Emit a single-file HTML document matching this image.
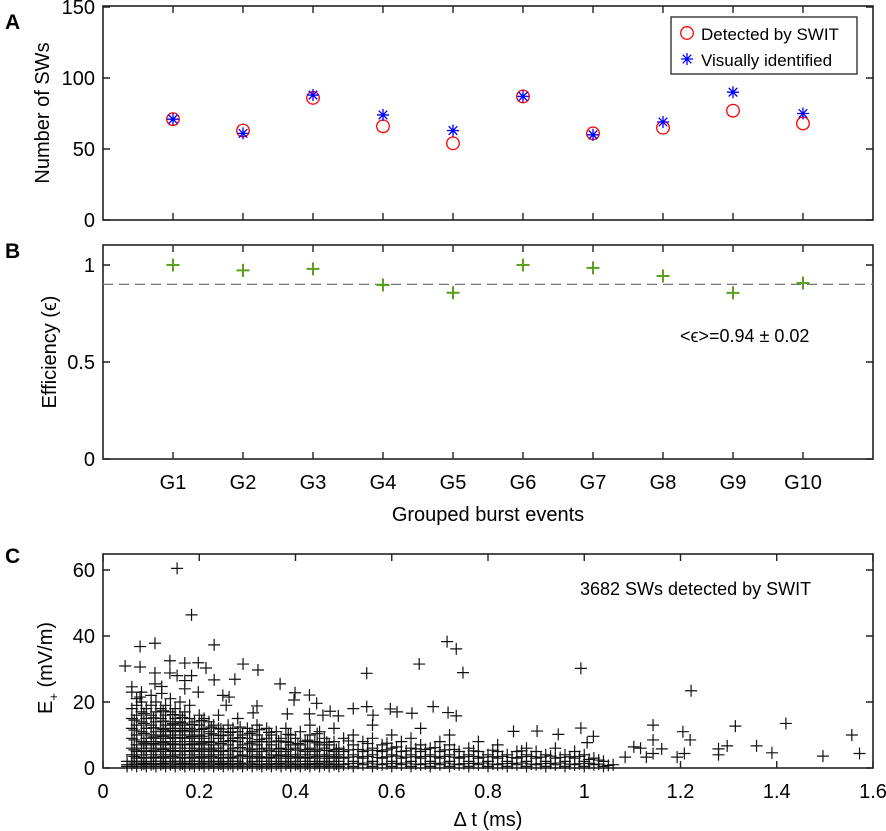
<!DOCTYPE html>
<html><head><meta charset="utf-8"><style>
html,body{margin:0;padding:0;background:#fff;}
svg{display:block;font-family:"Liberation Sans",Arial,sans-serif;}
</style></head><body>
<svg id="fig" width="886" height="831" viewBox="0 0 886 831" xmlns="http://www.w3.org/2000/svg"></svg>
<script>
// Panel A data
const groups = ["G1","G2","G3","G4","G5","G6","G7","G8","G9","G10"];
const detected = [71,63,86,66,54,87,61,65,77,68];
const visual = [71,61,88,74,63,87,60,69,90,75];
// Panel B data
const efficiency = [1.0,0.972,0.98,0.897,0.857,1.0,0.985,0.943,0.856,0.907];
const effMean = 0.9;
const ticksA = [0,50,100,150];
const ticksB = [0,0.5,1];
const ticksCx = [0,0.2,0.4,0.6,0.8,1,1.2,1.4,1.6];
const ticksCy = [0,20,40,60];
// Panel C outliers
const outX = [0.154,0.184,0.077,0.108,0.231,0.046,0.077,0.139,0.170,0.198,0.214,0.291,0.322,0.274,0.231,0.108,0.139,0.154,0.184,0.368,0.399,0.429,0.444,0.397,0.548,0.657,0.715,0.734,0.748,0.686,0.717,0.734,0.642,0.383,0.429,0.457,0.472,0.489,0.520,0.548,0.561,0.597,0.611,0.320,0.312,0.249,0.262,0.256,0.06,0.06,0.077,0.108,0.122,0.122,0.170,0.170,0.198,0.993,1.222,1.419,1.314,1.143,1.556,1.572,1.496,1.390,1.358,1.297,1.279,1.279,1.205,1.220,1.208,1.193,1.161,1.143,1.143,1.129,1.103,1.117,1.085,0.993,1.006,1.019,0.853,0.902,0.946];
const outY = [60.5,46.4,36.8,37.8,37.3,30.9,30.6,32.5,31.8,31.9,30.3,31.5,29.7,26.9,26.7,28.8,28.8,28,28,25.5,22.8,22.1,19.6,20.6,28.7,31.5,38.3,36.1,28.9,18.6,16.8,15.8,16.6,16.4,16.4,16,17.2,15.8,18,18.6,16,17.9,17,18.8,16.7,22,21.5,19,24.6,23,21.5,25.5,24.7,22.6,26.5,24,23,30.2,23.4,13.5,12.7,13,10,4.4,3.6,4.6,6.7,6.7,5.8,4,11,8.5,4.4,3.3,5.8,8.5,4.4,3.3,6.4,6,3.3,12.1,7.7,9.6,11.1,11.2,10.2];
// Panel C dense cluster: column x values and y values per column
const denseX = [0.05,0.06,0.07,0.08,0.09,0.10,0.11,0.12,0.13,0.14,0.15,0.16,0.17,0.18,0.19,0.20,0.21,0.22,0.23,0.24,0.25,0.26,0.27,0.28,0.29,0.30,0.31,0.32,0.33,0.34,0.35,0.36,0.37,0.38,0.39,0.40,0.41,0.42,0.43,0.44,0.45,0.46,0.47,0.48,0.49,0.50,0.52,0.54,0.56,0.58,0.60,0.62,0.64,0.66,0.68,0.70,0.72,0.74,0.76,0.78,0.80,0.82,0.84,0.86,0.88,0.90,0.92,0.94,0.96,0.98,1.00,1.02,1.04,1.06];
const denseY = [
[0.5,1,2],[1,2,4,6,9,12,15,18],[0.5,2,3,5,7,10,13,16,19,21],[1,2,4,6,8,11,14,17,20,23],[0.5,1.5,3,5,7,9,12,15,18],
[1,2,4,6,8,10,13,16,19,22],[0.5,2,3,5,7,9,11,14,17,20],[1,2,4,6,8,10,12,15,18],[0.5,1.5,3,5,7,9,11,13,16,19],[1,2,4,6,8,10,12,14,17,21],
[0.5,2,3,5,7,9,11,13,15,18],[1,2,4,6,8,10,12,14,16,20],[0.5,1.5,3,5,7,9,11,13,17],[1,2,4,6,8,10,12,15,19],[0.5,2,3,5,7,9,11,14],
[1,2,4,6,8,10,13,16],[0.5,1.5,3,5,7,9,12,15],[1,2,4,6,8,11,14],[0.5,2,3,5,7,10,13],[1,2,4,6,9,12,16],
[0.5,1.5,3,5,8,11],[1,2,4,7,10,13],[0.5,2,3,6,9,12],[1,2,5,8,11,15],[0.5,1.5,4,7,10],
[1,3,6,9,12],[0.5,2,5,8,11],[1,3,4,7,10,13],[0.5,2,5,8],[1,3,6,9,12],
[0.5,2,4,7,10],[1,3,5,8,11],[0.5,2,4,6,9],[1,3,5,8,12],[0.5,2,4,7,10],
[1,3,6,9],[0.5,2,4,7,11],[1,3,5,8],[0.5,2,4,6,10,13],[1,3,5,8],
[0.5,2,4,7,11],[1,3,6,9],[0.5,2,4,7],[1,3,5,8,12],[0.5,2,4,6],
[1,3,5,9],[0.5,2,4,7,10],[1,3,5,8],[0.5,2,4,6,9,13],[1,3,5,7],
[0.5,2,4,6,10],[1,3,5,8],[0.5,2,4,6,9],[1,3,5,7,12],[0.5,2,4,6],
[1,3,5,8],[0.5,2,4,7,10],[1,3,5],[0.5,2,4,6],[1,3,5,8],
[0.5,2,4],[1,3,5,7],[0.5,2,4],[1,3,5],[0.5,2,4,6],
[1,3,5],[0.5,2,4],[1,3,6],[0.5,2,4],[1,3,5],
[0.5,2,4],[1,3],[0.5,2],[1]];
// second interleaved dense set (fills the dark lower band)
const denseX2 = [0.065,0.085,0.105,0.125,0.145,0.165,0.185,0.205,0.225,0.245,0.265,0.285,0.305,0.325,0.345,0.365,0.385,0.405,0.425,0.445,0.465,0.485,0.51,0.53,0.55,0.57,0.59,0.61,0.63,0.65,0.67,0.69,0.71,0.73,0.75,0.77,0.79,0.81,0.83,0.85,0.87,0.89,0.91,0.93,0.95,0.97,0.99,1.01,1.03,1.05];
const denseY2 = [
[1.5,3.5,5.5,8.5,11.5,14.5],[1.2,3.2,5.2,7.5,10.5,13.5,16.5],[1.3,3.3,5.4,7.4,9.4,12.2,15.2],[1.4,3.4,5.6,7.6,9.6,11.6,14.2,17.3],[1.5,3.5,5.3,7.3,9.3,11.3,13.4,16.2],
[1.2,3.2,5.2,7.2,9.2,11.4,13.6,15.3],[1.3,3.3,5.3,7.3,9.5,11.5,13.2],[1.4,3.4,5.5,7.5,9.6,11.7,14.4],[1.5,3.5,5.5,7.8,10.4,12.4],[1.2,3.2,5.2,7.4,9.8,11.8],
[1.3,3.3,5.4,8.3,10.8],[1.4,3.6,6.2,9.2,12.4],[1.5,3.5,5.5,7.5,10.5],[1.2,3.4,5.8,8.6,11.6],[1.3,3.3,5.4,7.9,10.8],
[1.4,3.6,5.8,8.2],[1.5,3.5,5.6,7.8,10.2],[1.2,3.4,5.4,7.4],[1.3,3.3,5.6,8.4],[1.4,3.5,5.5,7.6,10.4],
[1.5,3.5,5.3,7.8],[1.2,3.4,5.6],[1.3,3.3,5.5,8.2],[1.4,3.4,5.6],[1.5,3.5,5.4,7.4],
[1.2,3.2,5.3],[1.3,3.4,5.5,7.5],[1.4,3.6,6.4],[1.5,3.3,5.2],[1.2,3.4,5.8],
[1.3,3.5,5.6],[1.4,3.4,6.2],[1.5,3.5,5.5],[1.2,3.3,5.6],[1.3,3.4],
[1.4,3.5,5.2],[1.5,3.3],[1.2,3.4,5.4],[1.3,3.5],[1.4,3.2],
[1.5,3.4,5.2],[1.2,3.5],[1.3,3.3],[1.4,3.6],[1.5,3.2],
[1.2,3.4],[1.3,3.5],[1.4,2.6],[1.2,2.4],[0.8]];

const NS="http://www.w3.org/2000/svg";
const svg=document.getElementById('fig');
function mk(tag,attrs,parent){const e=document.createElementNS(NS,tag);for(const k in attrs)e.setAttribute(k,attrs[k]);(parent||svg).appendChild(e);return e;}
function txt(s,x,y,size,anchor,parent,extra){const t=mk('text',Object.assign({x:x,y:y,'font-size':size,'text-anchor':anchor||'start',fill:'#000'},extra||{}),parent);t.textContent=s;return t;}

const L=103,R=873;
const xG=i=>L+70*(i+1);
const yA=v=>220-(v/150)*213;
const yB=v=>459-v*194;
const xC=v=>L+v*481.25;
const yC=v=>768-v*3.3;

function frame(top,bottom,name){
  const g=mk('g',{});
  
  
  mk('rect',{x:L,y:top,width:R-L,height:bottom-top,fill:'none',stroke:'#222','stroke-width':1.6},g);
  return g;
}
function plus(g,x,y,s,col,w){mk('path',{d:`M${x-s},${y}H${x+s}M${x},${y-s}V${y+s}`,stroke:col,'stroke-width':w,fill:'none'},g);}

// ---- Panel A ----
const gA=frame(6,220,'panel-a');
txt('A',5,29,21,'start',gA,{'font-weight':'bold'});
ticksA.forEach(v=>{const y=yA(v);
  mk('path',{d:`M${L},${y}h7M${R},${y}h-7`,stroke:'#222','stroke-width':1.4},gA);
  const t=txt(String(v),95,y+7,20,'end',gA);
  
  
});
groups.forEach((gname,i)=>{const x=xG(i);
  mk('path',{d:`M${x},6v7M${x},220v-7`,stroke:'#222','stroke-width':1.4},gA);
});
const ya=txt('Number of SWs',0,0,20,'middle',gA,{transform:`translate(49,113) rotate(-90)`});


detected.forEach((v,i)=>{
  const c=mk('circle',{cx:xG(i),cy:yA(v),r:6.3,fill:'none',stroke:'#ff0000','stroke-width':1.3},gA);
  
  
});
function star(g,x,y,col){const s=6;const d=s*0.72;
  mk('path',{d:`M${x-s},${y}H${x+s}M${x},${y-s}V${y+s}M${x-d},${y-d}L${x+d},${y+d}M${x-d},${y+d}L${x+d},${y-d}`,stroke:col,'stroke-width':1.3,fill:'none'},g);}
visual.forEach((v,i)=>{
  const g=mk('g',{},gA);
  
  
  star(g,xG(i),yA(v),'#0000ff');
});
const lg=mk('g',{},gA);


mk('rect',{x:671,y:17,width:186,height:57,fill:'#fff',stroke:'#222','stroke-width':1.3},lg);
mk('circle',{cx:687,cy:33,r:6.3,fill:'none',stroke:'#ff0000','stroke-width':1.3},lg);
txt('Detected by SWIT',701,40,17,'start',lg);
star(lg,687,59,'#0000ff');
txt('Visually identified',701,66,17,'start',lg);

// ---- Panel B ----
const gB=frame(245,459,'panel-b');
txt('B',5,258,21,'start',gB,{'font-weight':'bold'});
ticksB.forEach(v=>{const y=yB(v);
  mk('path',{d:`M${L},${y}h7M${R},${y}h-7`,stroke:'#222','stroke-width':1.4},gB);
  const t=txt(String(v),95,y+7,20,'end',gB);
  
  
});
groups.forEach((gname,i)=>{const x=xG(i);
  mk('path',{d:`M${x},245v7M${x},459v-7`,stroke:'#222','stroke-width':1.4},gB);
  const t=txt(gname,x,489,20,'middle',gB);
  
  
});
const ml=mk('line',{x1:L,x2:R,y1:yB(effMean),y2:yB(effMean),stroke:'#777','stroke-width':1.3,'stroke-dasharray':'10,6'},gB);


efficiency.forEach((v,i)=>{
  const g=mk('g',{},gB);
  
  
  plus(g,xG(i),yB(v),6.5,'#5aa01e',2);
});
const an=txt('<\u03f5>=0.94 \u00b1 0.02',680,342,18,'start',gB);


const yb=txt('Efficiency (\u03f5)',0,0,20,'middle',gB,{transform:`translate(56,352) rotate(-90)`});


const xb=txt('Grouped burst events',488,521,20,'middle',gB);



// ---- Panel C ----
const gC=frame(554,768,'panel-c');
txt('C',5,563,21,'start',gC,{'font-weight':'bold'});
ticksCy.forEach(v=>{const y=yC(v);
  mk('path',{d:`M${L},${y}h7M${R},${y}h-7`,stroke:'#222','stroke-width':1.4},gC);
  const t=txt(String(v),95,y+7,20,'end',gC);
  
  
});
ticksCx.forEach(v=>{const x=xC(v);
  mk('path',{d:`M${x},554v7M${x},768v-7`,stroke:'#222','stroke-width':1.4},gC);
  const t=txt(String(v),x,798,20,'middle',gC);
  
  
});
const pts=mk('g',{},gC);


denseX.forEach((x,i)=>{denseY[i].forEach(y=>plus(pts,xC(x),yC(y),6,'#111',1.2));});
denseX2.forEach((x,i)=>{denseY2[i].forEach(y=>plus(pts,xC(x),yC(y),6,'#111',1.2));});
outX.forEach((x,i)=>plus(pts,xC(x),yC(outY[i]),6,'#111',1.2));
const cn=txt('3682 SWs detected by SWIT',580,595,18,'start',gC);


const yc=mk('text',{x:0,y:0,'font-size':20,'text-anchor':'middle',transform:'translate(52,668) rotate(-90)'},gC);
yc.innerHTML='E<tspan font-size="13" dy="6">+</tspan><tspan dy="-6"> (mV/m)</tspan>';


const xc=txt('\u0394 t (ms)',488,826,20,'middle',gC);


</script>
</body></html>
